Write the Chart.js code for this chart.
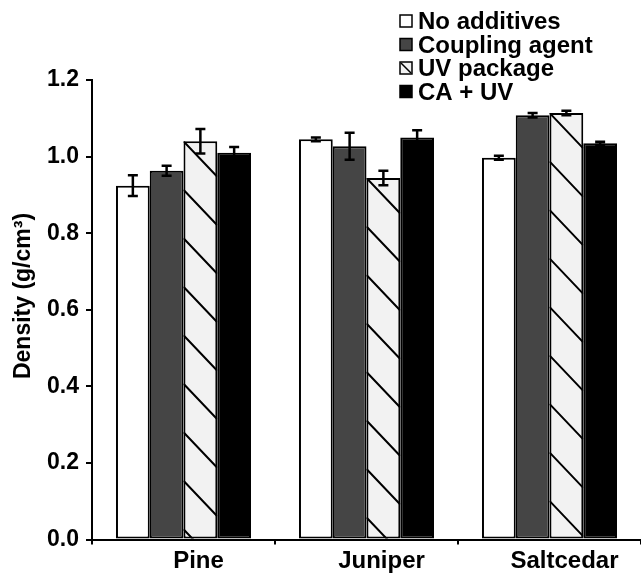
<!DOCTYPE html>
<html lang="en">
  <head>
    <meta charset="UTF-8" />
    <title>Density</title>
    <style>
      body { margin: 0; background: #fff; }
      #wrap { width: 641px; height: 573px; }
    </style>
  </head>
  <body>
    <div id="wrap"><canvas id="bar"></canvas></div>
    <script src="https://cdn.jsdelivr.net/npm/chart.js"></script>
    <script>
      const categories = ["Pine", "Juniper", "Saltcedar"];
      const seriesLabels = ["No additives", "Coupling agent", "UV package", "CA + UV"];
      const noAdditives = [0.924, 1.045, 0.997];
      const couplingAgent = [0.963, 1.027, 1.108];
      const uvPackage = [1.04, 0.944, 1.114];
      const caUv = [1.01, 1.05, 1.035];
      const noAdditivesErr = [0.027, 0.005, 0.005];
      const couplingAgentErr = [0.013, 0.035, 0.006];
      const uvPackageErr = [0.032, 0.019, 0.006];
      const caUvErr = [0.015, 0.019, 0.004];
      const yTicks = [0, 0.2, 0.4, 0.6, 0.8, 1.0, 1.2];
      const yTitle = "Density (g/cm³)";

      const FONT = "'Liberation Sans', Arial, sans-serif";

      const makeSet = (label, data, err, fill, hatch) => ({
        label: label,
        data: data,
        err: err,
        hatch: hatch,
        backgroundColor: fill,
        borderColor: "#000",
        borderWidth: 2,
        borderSkipped: false,
      });

      const chartData = {
        labels: categories,
        datasets: [
          makeSet(seriesLabels[0], noAdditives, noAdditivesErr, "#ffffff", false),
          makeSet(seriesLabels[1], couplingAgent, couplingAgentErr, "#454545", false),
          makeSet(seriesLabels[2], uvPackage, uvPackageErr, "#f2f2f2", true),
          makeSet(seriesLabels[3], caUv, caUvErr, "#000000", false),
        ],
      };

      // diagonal hatch, error bars, legend and y title
      const extras = {
        id: "extras",
        afterDatasetsDraw(chart) {
          const ctx = chart.ctx;
          const y = chart.scales.y;
          chart.data.datasets.forEach((ds, i) => {
            const meta = chart.getDatasetMeta(i);
            meta.data.forEach((bar, j) => {
              const left = bar.x - bar.width / 2;
              const right = bar.x + bar.width / 2;
              if (ds.hatch) {
                ctx.save();
                ctx.beginPath();
                ctx.rect(left, bar.y, right - left, bar.base - bar.y);
                ctx.clip();
                ctx.strokeStyle = "#000";
                ctx.lineWidth = 2;
                ctx.beginPath();
                for (let y0 = bar.y; y0 < bar.base; y0 += 48.5) {
                  ctx.moveTo(left, y0);
                  ctx.lineTo(right, y0 + (right - left) * 1.05);
                }
                ctx.stroke();
                ctx.restore();
              }
              const v = ds.data[j];
              const e = ds.err[j];
              const yt = y.getPixelForValue(v + e);
              const yb = y.getPixelForValue(v - e);
              ctx.save();
              ctx.strokeStyle = "#000";
              ctx.lineWidth = 2.5;
              ctx.beginPath();
              ctx.moveTo(bar.x, yt);
              ctx.lineTo(bar.x, yb);
              ctx.moveTo(bar.x - 5, yt);
              ctx.lineTo(bar.x + 5, yt);
              ctx.moveTo(bar.x - 5, yb);
              ctx.lineTo(bar.x + 5, yb);
              ctx.stroke();
              ctx.restore();
            });
          });
        },
        afterDraw(chart) {
          const ctx = chart.ctx;
          ctx.save();
          ctx.font = "bold 24px " + FONT;
          ctx.fillStyle = "#000";
          ctx.textBaseline = "alphabetic";
          chart.data.datasets.forEach((ds, i) => {
            const cy = 21 + i * 23.5;
            const bx = 400, by = cy - 6, s = 12;
            ctx.fillStyle = ds.backgroundColor;
            ctx.fillRect(bx, by, s, s);
            ctx.strokeStyle = "#000";
            ctx.lineWidth = 1.5;
            ctx.strokeRect(bx, by, s, s);
            if (ds.hatch) {
              ctx.beginPath();
              ctx.moveTo(bx + 1, by + 1);
              ctx.lineTo(bx + s - 1, by + s - 1);
              ctx.stroke();
            }
            ctx.fillStyle = "#000";
            ctx.fillText(ds.label, 418, cy + 8);
          });
          ctx.translate(24, 296);
          ctx.rotate(-Math.PI / 2);
          ctx.textAlign = "center";
          ctx.textBaseline = "middle";
          ctx.font = "bold 23px " + FONT;
          ctx.fillText(yTitle, 0, 0);
          ctx.restore();
        },
      };

      const barCtx = document.getElementById("bar");
      const barChart = new Chart(barCtx, {
        type: "bar",
        data: chartData,
        plugins: [extras],
        options: {
          responsive: true,
          maintainAspectRatio: false,
          animation: false,
          layout: { padding: { top: 80, right: 0, left: 0, bottom: 0 } },
          datasets: { bar: { categoryPercentage: 0.738, barPercentage: 1.0 } },
          plugins: { legend: { display: false }, tooltip: { enabled: false } },
          scales: {
            x: {
              afterFit: (s) => { s.height = 33.5; },
              border: { color: "#000", width: 2 },
              grid: {
                offset: true,
                drawOnChartArea: false,
                drawTicks: true,
                tickLength: 5,
                color: "#000",
                lineWidth: 2,
              },
              ticks: {
                color: "#000",
                padding: 2,
                labelOffset: 15,
                maxRotation: 0,
                font: { family: FONT, size: 24, weight: "bold" },
              },
            },
            y: {
              min: yTicks[0],
              max: yTicks[yTicks.length - 1],
              afterFit: (s) => { s.width = 92; },
              afterBuildTicks: (s) => { s.ticks = yTicks.map((v) => ({ value: v })); },
              border: { color: "#000", width: 2 },
              grid: {
                drawOnChartArea: false,
                drawTicks: true,
                tickLength: 6,
                color: "#000",
                lineWidth: 2,
              },
              ticks: {
                color: "#000",
                padding: 7,
                callback: (v) => Number(v).toFixed(1),
                font: { family: FONT, size: 23, weight: "bold" },
              },
            },
          },
        },
      });
    </script>
  </body>
</html>
